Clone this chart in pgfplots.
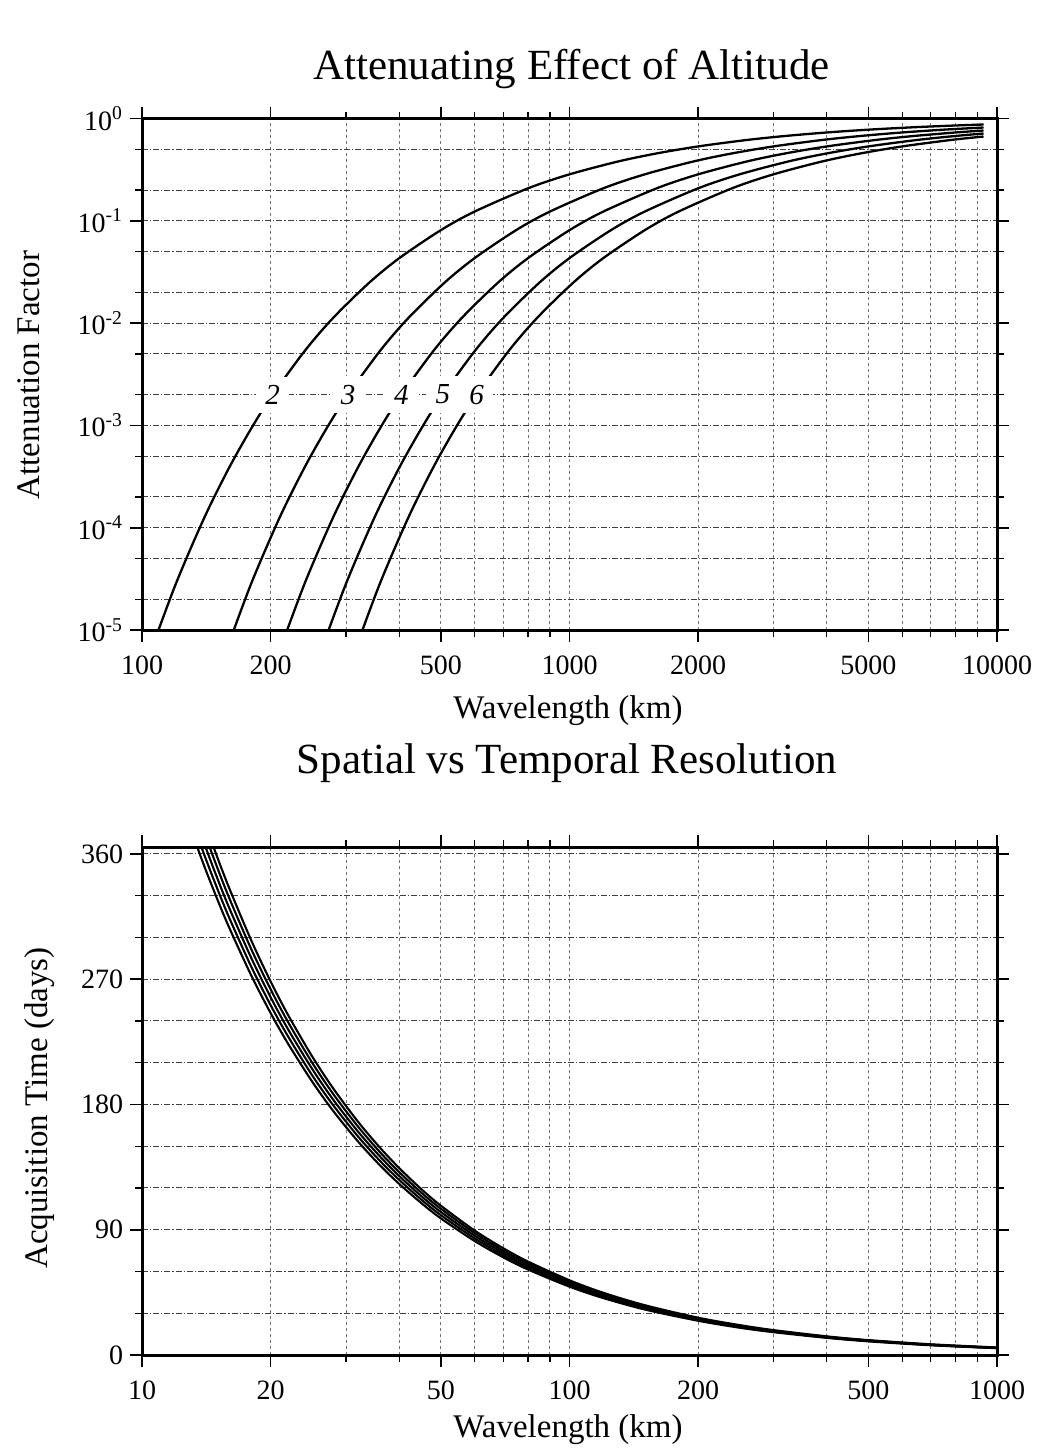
\documentclass[border=0pt]{standalone}
\usepackage{fontspec}
\setmainfont{Liberation Serif}
\usepackage{pgfplots}
\pgfplotsset{compat=1.18}

% common frame: thick box, outward ticks, dashed grid on every tick
\pgfplotsset{
  gmtframe/.style={
    scale only axis,
    width=427.5pt,
    axis line style={line width=1.5pt},
    tick align=outside,
    major tick length=6pt,
    minor tick length=3.5pt,
    major tick style={black, line width=0.8pt},
    minor tick style={black, line width=0.6pt},
    grid=both,
    major x grid style={black!55, line width=0.45pt, dash pattern=on 1.5pt off 1.5pt},
    minor x grid style={black!55, line width=0.45pt, dash pattern=on 1.5pt off 1.5pt},
    major y grid style={black!75, line width=0.5pt, dash pattern=on 3pt off 1pt on 0.6pt off 1pt},
    minor y grid style={black!75, line width=0.5pt, dash pattern=on 3pt off 1pt on 0.6pt off 1pt},
    tick label style={font=\fontsize{14}{16}\selectfont},
    xticklabel style={yshift=-3.5pt},
  },
  curve/.style={black, line width=1.15pt, smooth},
  band/.style={black, line width=1.05pt, smooth},
}

\begin{document}
\begin{tikzpicture}
\path[use as bounding box] (-71pt,-411pt) rectangle (447.5pt,315pt);

% ---------------- attenuation factor exp(-2 pi h / lambda) ----------------
\begin{axis}[
  gmtframe,
  at={(0pt,0pt)}, anchor=south west,
  height=255.75pt,
  xmode=log, ymode=log,
  xmin=100, xmax=10000, ymin=1e-5, ymax=1,
  xtick={100,200,500,1000,2000,5000,10000},
  xticklabels={100,200,500,1000,2000,5000,10000},
  minor xtick={300,400,600,700,800,900,3000,4000,6000,7000,8000,9000},
  ytick={1e-5,1e-4,1e-3,1e-2,1e-1,1},
  yticklabels={10\textsuperscript{-5},10\textsuperscript{-4},10\textsuperscript{-3},10\textsuperscript{-2},10\textsuperscript{-1},10\textsuperscript{0}},
  minor ytick={2e-5,5e-5,2e-4,5e-4,2e-3,5e-3,2e-2,5e-2,2e-1,5e-1},
]
% h = 200 km
\addplot[curve] coordinates {
 (104,5.655e-6) (120,2.832e-5) (140,1.264e-4) (160,3.882e-4) (180,9.294e-4)
 (200,1.867e-3) (240,5.321e-3) (280,1.1243e-2) (340,2.4823e-2) (400,4.3214e-2)
 (500,8.100e-2) (600,0.12316) (800,0.20788) (1000,0.28461) (1300,0.38036)
 (1600,0.45594) (2000,0.53355) (2600,0.61673) (3200,0.67523) (4000,0.73040)
 (5000,0.77774) (6400,0.82172) (8000,0.85464) (9300,0.87361)};
% h = 300 km
\addplot[curve] coordinates {
 (156,5.655e-6) (180,2.832e-5) (210,1.264e-4) (240,3.882e-4) (270,9.294e-4)
 (300,1.867e-3) (360,5.321e-3) (420,1.1243e-2) (510,2.4823e-2) (600,4.3214e-2)
 (750,8.100e-2) (900,0.12316) (1200,0.20788) (1500,0.28461) (1950,0.38036)
 (2400,0.45594) (3000,0.53355) (3900,0.61673) (4800,0.67523) (6000,0.73040)
 (7500,0.77774) (9300,0.81654)};
% h = 400 km
\addplot[curve] coordinates {
 (208,5.655e-6) (240,2.832e-5) (280,1.264e-4) (320,3.882e-4) (360,9.294e-4)
 (400,1.867e-3) (480,5.321e-3) (560,1.1243e-2) (680,2.4823e-2) (800,4.3214e-2)
 (1000,8.100e-2) (1200,0.12316) (1600,0.20788) (2000,0.28461) (2600,0.38036)
 (3200,0.45594) (4000,0.53355) (5200,0.61673) (6400,0.67523) (8000,0.73040)
 (9300,0.76320)};
% h = 500 km
\addplot[curve] coordinates {
 (260,5.655e-6) (300,2.832e-5) (350,1.264e-4) (400,3.882e-4) (450,9.294e-4)
 (500,1.867e-3) (600,5.321e-3) (700,1.1243e-2) (850,2.4823e-2) (1000,4.3214e-2)
 (1250,8.100e-2) (1500,0.12316) (2000,0.20788) (2500,0.28461) (3250,0.38036)
 (4000,0.45594) (5000,0.53355) (6500,0.61673) (8000,0.67523) (9300,0.71333)};
% h = 600 km
\addplot[curve] coordinates {
 (312,5.655e-6) (360,2.832e-5) (420,1.264e-4) (480,3.882e-4) (540,9.294e-4)
 (600,1.867e-3) (720,5.321e-3) (840,1.1243e-2) (1020,2.4823e-2) (1200,4.3214e-2)
 (1500,8.100e-2) (1800,0.12316) (2400,0.20788) (3000,0.28461) (3900,0.38036)
 (4800,0.45594) (6000,0.53355) (7800,0.61673) (9300,0.66673)};
% altitude labels (hundreds of km) where each curve crosses 2e-3
\begin{scope}[every node/.style={fill=white, inner xsep=4.75pt, inner ysep=4.25pt,
    font=\itshape\fontsize{14.5}{16}\selectfont}]
\node at (axis cs:202.2,0.002) {2};
\node at (axis cs:303.3,0.002) {3};
\node at (axis cs:404.4,0.002) {4};
\node at (axis cs:505.5,0.002) {5};
\node at (axis cs:606.6,0.002) {6};
\end{scope}
\end{axis}

% ---------------- acquisition time vs wavelength ----------------
\begin{axis}[
  gmtframe,
  at={(0pt,-362.5pt)}, anchor=south west,
  height=254pt,
  xmode=log,
  xmin=10, xmax=1000, ymin=0, ymax=365,
  xtick={10,20,50,100,200,500,1000},
  xticklabels={10,20,50,100,200,500,1000},
  minor xtick={30,40,60,70,80,90,300,400,600,700,800,900},
  ytick={0,90,180,270,360},
  yticklabels={0,90,180,270,360},
  minor ytick={30,60,120,150,210,240,300,330},
]
\addplot[band] coordinates {
 (13,377.8) (14,350.9) (15,327.5) (16,307.0) (18,272.9) (20,245.6) (22,223.3)
 (25,196.5) (28,175.4) (32,153.5) (36,136.4) (40,122.8) (45,109.2) (50,98.2)
 (60,81.9) (70,70.2) (80,61.4) (100,49.1) (120,40.9) (150,32.7) (200,24.6)
 (250,19.6) (300,16.4) (400,12.3) (500,9.8) (700,7.0) (1000,4.9)};
\addplot[band] coordinates {
 (13,386.6) (14,359.0) (15,335.1) (16,314.1) (18,279.2) (20,251.3) (22,228.5)
 (25,201.0) (28,179.5) (32,157.1) (36,139.6) (40,125.7) (45,111.7) (50,100.5)
 (60,83.8) (70,71.8) (80,62.8) (100,50.3) (120,41.9) (150,33.5) (200,25.1)
 (250,20.1) (300,16.8) (400,12.6) (500,10.1) (700,7.2) (1000,5.0)};
\addplot[band] coordinates {
 (13,395.3) (14,367.1) (15,342.6) (16,321.2) (18,285.5) (20,257.0) (22,233.6)
 (25,205.6) (28,183.5) (32,160.6) (36,142.8) (40,128.5) (45,114.2) (50,102.8)
 (60,85.7) (70,73.4) (80,64.2) (100,51.4) (120,42.8) (150,34.3) (200,25.7)
 (250,20.6) (300,17.1) (400,12.8) (500,10.3) (700,7.3) (1000,5.1)};
\addplot[band] coordinates {
 (13,404.1) (14,375.2) (15,350.2) (16,328.3) (18,291.8) (20,262.7) (22,238.8)
 (25,210.1) (28,187.6) (32,164.2) (36,145.9) (40,131.3) (45,116.7) (50,105.1)
 (60,87.6) (70,75.0) (80,65.7) (100,52.5) (120,43.8) (150,35.0) (200,26.3)
 (250,21.0) (300,17.5) (400,13.1) (500,10.5) (700,7.5) (1000,5.3)};
\addplot[band] coordinates {
 (13,412.8) (14,383.3) (15,357.7) (16,335.4) (18,298.1) (20,268.3) (22,243.9)
 (25,214.6) (28,191.6) (32,167.7) (36,149.1) (40,134.2) (45,119.2) (50,107.3)
 (60,89.4) (70,76.7) (80,67.1) (100,53.7) (120,44.7) (150,35.8) (200,26.8)
 (250,21.5) (300,17.9) (400,13.4) (500,10.7) (700,7.7) (1000,5.4)};
\end{axis}

% titles and axis labels
\node[anchor=base, font=\fontsize{21.5}{24}\selectfont] at (214.75pt,275pt) {Attenuating Effect of Altitude};
\node[anchor=base, font=\fontsize{16.5}{19}\selectfont] at (213pt,-44pt) {Wavelength (km)};
\node[anchor=base, rotate=90, font=\fontsize{16.5}{19}\selectfont] at (-51pt,127.5pt) {Attenuation Factor};

\node[anchor=base, font=\fontsize{21.5}{24}\selectfont] at (212.5pt,-71.5pt) {Spatial vs Temporal Resolution};
\node[anchor=base, font=\fontsize{16.5}{19}\selectfont] at (213pt,-403.5pt) {Wavelength (km)};
\node[anchor=base, rotate=90, font=\fontsize{16.5}{19}\selectfont] at (-47pt,-239pt) {Acquisition Time (days)};
\end{tikzpicture}
\end{document}
